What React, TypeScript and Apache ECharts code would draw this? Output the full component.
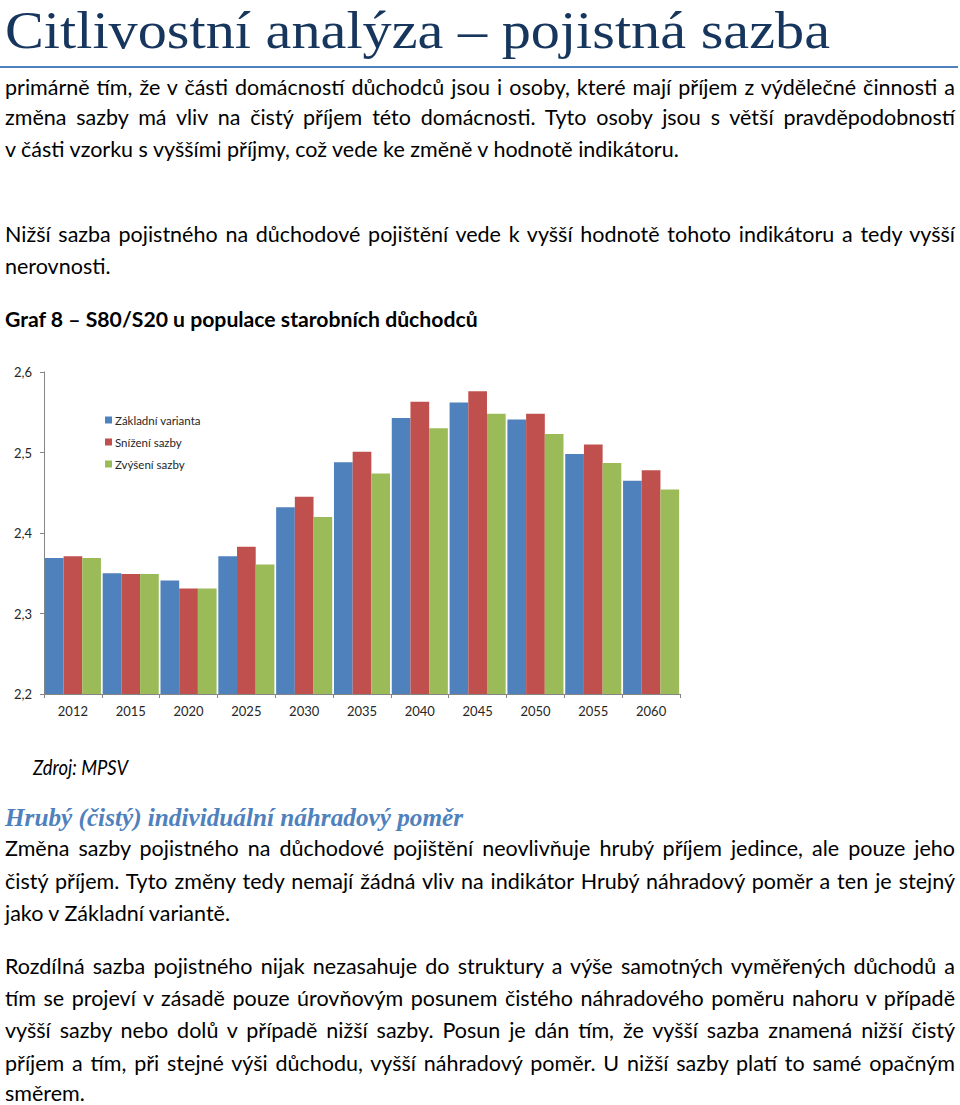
import React, { useEffect, useRef } from "react";
import * as echarts from "echarts";

const categories = ["2012", "2015", "2020", "2025", "2030", "2035", "2040", "2045", "2050", "2055", "2060"];
const zakladni = [2.369, 2.350, 2.341, 2.371, 2.432, 2.488, 2.543, 2.562, 2.541, 2.498, 2.465];
const snizeni = [2.371, 2.349, 2.331, 2.383, 2.445, 2.501, 2.563, 2.576, 2.548, 2.510, 2.478];
const zvyseni = [2.369, 2.349, 2.331, 2.361, 2.420, 2.474, 2.530, 2.548, 2.523, 2.487, 2.454];
const seriesNames = ["Základní varianta", "Snížení sazby", "Zvýšení sazby"];
const yMin = 2.2;
const yMax = 2.6;
const yStep = 0.1;

const BODY_FAMILY = "Lato";
const BODY_FONT = "Lato, 'Open Sans', sans-serif";
const SERIF_FAMILY = "Liberation Serif";
const BODY_SIZE = 21.5;

type Line = { y: number; text: string; justify: boolean };

const bodyLines: Line[] = [
  { y: 87, text: "primárně tím, že v části domácností důchodců jsou i osoby, které mají příjem z výdělečné činnosti a", justify: true },
  { y: 117, text: "změna sazby má vliv na čistý příjem této domácnosti. Tyto osoby jsou s větší pravděpodobností", justify: true },
  { y: 149, text: "v části vzorku s vyššími příjmy, což vede ke změně v hodnotě indikátoru.", justify: false },
  { y: 234, text: "Nižší sazba pojistného na důchodové pojištění vede k vyšší hodnotě tohoto indikátoru a tedy vyšší", justify: true },
  { y: 266, text: "nerovnosti.", justify: false },
  { y: 848, text: "Změna sazby pojistného na důchodové pojištění neovlivňuje hrubý příjem jedince, ale pouze jeho", justify: true },
  { y: 881, text: "čistý příjem. Tyto změny tedy nemají žádná vliv na indikátor Hrubý náhradový poměr a ten je stejný", justify: true },
  { y: 913, text: "jako v Základní variantě.", justify: false },
  { y: 966, text: "Rozdílná sazba pojistného nijak nezasahuje do struktury a výše samotných vyměřených důchodů a", justify: true },
  { y: 998, text: "tím se projeví v zásadě pouze úrovňovým posunem čistého náhradového poměru nahoru v případě", justify: true },
  { y: 1030, text: "vyšší sazby nebo dolů v případě nižší sazby. Posun je dán tím, že vyšší sazba znamená nižší čistý", justify: true },
  { y: 1063, text: "příjem a tím, při stejné výši důchodu, vyšší náhradový poměr. U nižší sazby platí to samé opačným", justify: true },
  { y: 1093, text: "směrem.", justify: false },
];

let ctx: CanvasRenderingContext2D | null = null;
function measure(text: string, font: string): number {
  if (!ctx) ctx = document.createElement("canvas").getContext("2d");
  if (!ctx) return 0;
  ctx.font = font;
  return ctx.measureText(text).width;
}

function Chart() {
  const ref = useRef<HTMLDivElement>(null);
  useEffect(() => {
    if (!ref.current) return;
    const chart = echarts.init(ref.current, undefined, { renderer: "svg" });
    const axisColor = "#868686";
    const labelStyle = { color: "#262626", fontSize: 13, fontFamily: BODY_FONT };
    chart.setOption({
      animation: false,
      color: ["#4F81BD", "#C0504D", "#9BBB59"],
      grid: { left: 44, right: 20, top: 17, bottom: 31, containLabel: false },
      legend: {
        orient: "vertical",
        left: 100,
        top: 54,
        icon: "rect",
        itemWidth: 7,
        itemHeight: 7,
        itemGap: 10,
        textStyle: { color: "#262626", fontSize: 11.5, fontFamily: BODY_FONT, padding: [0, 0, 0, -2] },
        data: seriesNames,
      },
      xAxis: {
        type: "category",
        data: categories,
        axisLine: { lineStyle: { color: axisColor, width: 1 } },
        axisTick: { show: true, length: 4, inside: false, lineStyle: { color: axisColor } },
        axisLabel: { ...labelStyle, margin: 10 },
      },
      yAxis: {
        type: "value",
        min: yMin,
        max: yMax,
        interval: yStep,
        splitLine: { show: false },
        axisLine: { show: true, lineStyle: { color: axisColor, width: 1 } },
        axisTick: { show: true, length: 4, lineStyle: { color: axisColor } },
        axisLabel: {
          ...labelStyle,
          margin: 12,
          formatter: (v: number) => v.toFixed(1).replace(".", ","),
        },
      },
      series: [
        { name: seriesNames[0], type: "bar", data: zakladni, barGap: "0%", barCategoryGap: "3%" },
        { name: seriesNames[1], type: "bar", data: snizeni, barGap: "0%", barCategoryGap: "3%" },
        { name: seriesNames[2], type: "bar", data: zvyseni, barGap: "0%", barCategoryGap: "3%" },
      ],
    });
    return () => chart.dispose();
  }, []);
  return <div ref={ref} style={{ position: "absolute", left: 0, top: 355, width: 700, height: 370 }} />;
}

function TextLine({ line }: { line: Line }) {
  const W = 950;
  const H = 24;
  const natural = measure(line.text, `normal 400 ${BODY_SIZE}px ${BODY_FAMILY}`);
  const base: React.CSSProperties = {
    position: "absolute",
    left: 5,
    width: W,
    top: line.y - H / 2,
    height: H,
    lineHeight: `${H}px`,
    fontFamily: BODY_FONT,
    fontSize: BODY_SIZE,
    color: "#000",
    whiteSpace: "nowrap",
  };
  if (line.justify && natural > W) {
    return (
      <div style={base}>
        <span style={{ display: "inline-block", transform: `scaleX(${W / natural})`, transformOrigin: "left center" }}>
          {line.text}
        </span>
      </div>
    );
  }
  return (
    <div
      style={{
        ...base,
        textAlign: line.justify ? "justify" : "left",
        textAlignLast: line.justify ? "justify" : "left",
      } as React.CSSProperties}
    >
      {line.text}
    </div>
  );
}

function FitText({
  text, x, y, width, size, family, cssFamily, weight, italic, color,
}: {
  text: string; x: number; y: number; width: number; size: number; family: string; cssFamily: string;
  weight: number; italic: boolean; color: string;
}) {
  const w = measure(text, `${italic ? "italic" : "normal"} ${weight} ${size}px '${family}'`);
  const sx = w > 0 ? width / w : 1;
  const H = Math.round(size * 1.25);
  return (
    <div
      style={{
        position: "absolute",
        left: x,
        top: y - H / 2,
        height: H,
        lineHeight: `${H}px`,
        fontFamily: cssFamily,
        fontSize: size,
        fontWeight: weight,
        fontStyle: italic ? "italic" : "normal",
        color,
        whiteSpace: "nowrap",
        transform: `scaleX(${sx})`,
        transformOrigin: "left center",
      }}
    >
      {text}
    </div>
  );
}

export default function App() {
  useEffect(() => {
    document.body.style.margin = "0";
  }, []);
  const serifCss = "'Liberation Serif', 'DejaVu Serif', serif";
  return (
    <div style={{ position: "relative", width: 960, height: 1105, overflow: "hidden", background: "#fff" }}>
      <FitText
        text="Citlivostní analýza – pojistná sazba"
        x={5} y={30} width={825} size={53}
        family={SERIF_FAMILY} cssFamily={serifCss} weight={400} italic={false} color="#17365D"
      />
      <div style={{ position: "absolute", left: 0, top: 66, width: 958, height: 2, background: "#4F81BD" }} />
      {bodyLines.map((l, i) => (
        <TextLine key={i} line={l} />
      ))}
      <FitText
        text="Graf 8 – S80/S20 u populace starobních důchodců"
        x={5} y={319} width={473} size={BODY_SIZE}
        family={BODY_FAMILY} cssFamily={BODY_FONT} weight={700} italic={false} color="#000"
      />
      <Chart />
      <FitText
        text="Zdroj: MPSV"
        x={33} y={767} width={95} size={BODY_SIZE}
        family={BODY_FAMILY} cssFamily={BODY_FONT} weight={400} italic={true} color="#000"
      />
      <FitText
        text="Hrubý (čistý) individuální náhradový poměr"
        x={5} y={817} width={458} size={25}
        family={SERIF_FAMILY} cssFamily={serifCss} weight={700} italic={true} color="#4F81BD"
      />
    </div>
  );
}
